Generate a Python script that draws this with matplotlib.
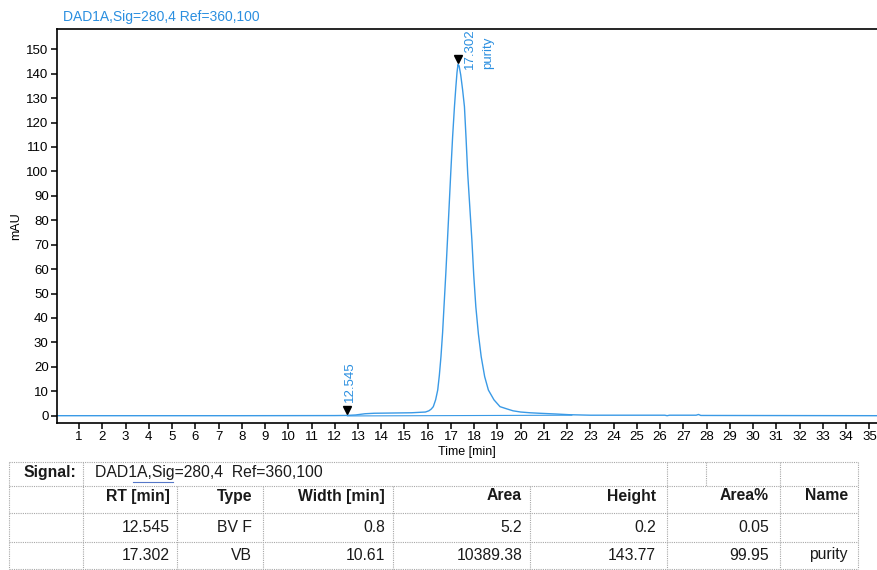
import matplotlib.pyplot as plt
import matplotlib.transforms as mtransforms

plt.rcParams['font.family'] = ['Liberation Sans', 'DejaVu Sans']

signal_name = "DAD1A,Sig=280,4 Ref=360,100"
trace_color = '#3a9ae6'
label_color = '#2b8fe0'

# DAD trace: time [min] vs absorbance [mAU]
time_min = [0.05, 4.0, 8.0, 12.0, 12.5, 12.9, 13.3, 13.7, 14.5, 15.3,
            15.9, 16.05, 16.15, 16.24, 16.34, 16.43, 16.50, 16.57, 16.64, 16.70,
            16.78, 16.85, 16.92, 16.99, 17.07, 17.15, 17.21, 17.26, 17.302, 17.35,
            17.42, 17.50, 17.58, 17.65, 17.72, 17.81, 17.90, 17.98, 18.07, 18.18,
            18.30, 18.45, 18.61, 18.85, 19.11, 19.40, 19.67, 20.0, 20.4, 20.8,
            21.5, 22.1, 23.0, 26.2, 26.3, 26.4, 27.55, 27.65, 27.75, 35.33]
absorb_mau = [0.0, 0.0, 0.0, 0.05, 0.1, 0.3, 0.8, 1.0, 1.1, 1.2,
              1.5, 2.0, 2.7, 3.7, 6.5, 10.5, 16.5, 24.2, 34.0, 44.6,
              58.5, 71.9, 85.5, 99.2, 114.0, 126.5, 134.5, 140.5, 143.77, 143.2,
              139.5, 133.5, 126.5, 113.5, 99.2, 85.5, 71.9, 57.5, 44.6, 33.5,
              24.2, 16.0, 10.5, 6.5, 3.7, 2.8, 2.0, 1.5, 1.2, 1.0,
              0.7, 0.4, 0.2, 0.2, 0.0, 0.2, 0.2, 0.5, 0.1, 0.0]

# integration baseline
base_time = [12.545, 22.2]
base_mau = [-0.1, 0.2]

# peaks found by the integrator
peak_rt = [12.545, 17.302]
peak_height = [0.2, 143.77]
peak_label = ["12.545", "17.302"]
peak_name = ["", "purity"]

# peak table
col_heads = ["RT [min]", "Type", "Width [min]", "Area", "Height", "Area%", "Name"]
rt_col = ["12.545", "17.302"]
type_col = ["BV F", "VB"]
width_col = ["0.8", "10.61"]
area_col = ["5.2", "10389.38"]
height_col = ["0.2", "143.77"]
area_pct_col = ["0.05", "99.95"]
name_col = ["", "purity"]

W, H = 877, 570
fig = plt.figure(figsize=(W / 100, H / 100), dpi=100)
ax = fig.add_axes([57 / W, 147 / H, 820 / W, 394 / H])

ax.plot(time_min, absorb_mau, color=trace_color, lw=1.0)
ax.plot(base_time, base_mau, color=trace_color, lw=0.8)

ax.set_xlim(0.05, 35.33)
ax.set_ylim(-2.99, 158.3)
ax.set_xticks(range(1, 36))
ax.set_yticks(range(0, 151, 10))
ax.spines['right'].set_visible(False)
for s in ['left', 'bottom', 'top']:
    ax.spines[s].set_linewidth(1.2)
ax.tick_params(direction='out', length=4, width=1.1, labelsize=9.5, pad=2)
ax.set_xlabel("Time [min]", fontsize=9, labelpad=2)
ax.set_ylabel("mAU", fontsize=9, labelpad=3)

# peak markers sit just above the apex
up = mtransforms.offset_copy(ax.transData, fig=fig, x=0, y=4, units='points')
ax.plot(peak_rt, peak_height, 'v', color='black', ms=6, transform=up, clip_on=False)

label_offsets = [(1.5, 9.5), (8.5, -3.5)]
for rt, h, lab, name, (dx, dy) in zip(peak_rt, peak_height, peak_label, peak_name, label_offsets):
    ax.annotate(lab, (rt, h), xytext=(dx, dy), textcoords='offset points',
                rotation=90, rotation_mode='anchor', ha='left', va='center',
                color=label_color, fontsize=9.5, clip_on=True)
    if name:
        ax.annotate(name, (rt, h), xytext=(dx + 13, dy), textcoords='offset points',
                    rotation=90, rotation_mode='anchor', ha='left', va='center',
                    color=label_color, fontsize=9.5, clip_on=True)

fig.text(63 / W, 1 - 17 / H, signal_name, color=label_color, fontsize=10, va='center')

# table drawn on a pixel-coordinate overlay
tb = fig.add_axes([0, 0, 1, 1])
tb.set_xlim(0, W)
tb.set_ylim(H, 0)
tb.axis('off')

grid = dict(color='#a8a8a8', lw=0.8, linestyle=(0, (1, 1)))
row_y = [461.7, 486, 513.3, 541.7, 569]
tb.hlines(row_y, 9, 858, **grid)
tb.vlines([9, 83, 667, 780, 858], row_y[0], row_y[-1], **grid)
tb.vlines([177, 263, 393, 530], row_y[1], row_y[-1], **grid)
tb.vlines([706], row_y[0], row_y[1], **grid)

fs = 11.3
tc = '#1a1a1a'
tb.text(23, 472, "Signal:", fontsize=fs, fontweight='bold', color=tc, va='center')
tb.text(95, 472, signal_name.replace(" ", "  "), fontsize=fs, color=tc, va='center')
tb.plot([133, 173], [481.5, 481.5], color='#5577c8', lw=0.8)

col_right = [170, 252, 385, 522, 656, 769, 848]
for x, head in zip(col_right, col_heads):
    tb.text(x, 496, head, fontsize=fs, fontweight='bold', color=tc, ha='right', va='center')

rows = list(zip(rt_col, type_col, width_col, area_col, height_col, area_pct_col, name_col))
for y, row in zip([527, 555], rows):
    for x, val in zip(col_right, row):
        tb.text(x, y, val, fontsize=fs, color=tc, ha='right', va='center')

fig.savefig("out.png", dpi=100)
